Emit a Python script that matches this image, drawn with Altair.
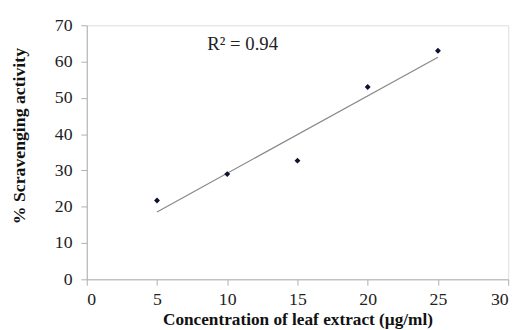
import altair as alt
import pandas as pd

conc = [5, 10, 15, 20, 25]
activity = [21.7, 29.0, 32.7, 53.0, 63.0]
r2_label = ["R² = 0.94"]

df = pd.DataFrame({"conc": conc, "activity": activity})
FONT = "Liberation Serif"

xs = alt.Scale(domain=[0, 30], nice=False)
ys = alt.Scale(domain=[0, 70], nice=False)

xax = alt.Axis(values=[0, 5, 10, 15, 20, 25, 30], grid=False, title="Concentration of leaf extract (µg/ml)",
               labelFont=FONT, labelFontSize=18, labelColor="#222", labelOverlap=False,
               titleFont=FONT, titleFontSize=17.5,
               titleFontWeight="bold", titleColor="#111", domainColor="#b0b0b0", tickColor="#b0b0b0",
               tickSize=6, labelPadding=6, titlePadding=2)
yax = alt.Axis(values=[0, 10, 20, 30, 40, 50, 60, 70], grid=False, title="% Scravenging activity",
               labelFont=FONT, labelFontSize=18, labelColor="#222", labelOverlap=False,
               titleFont=FONT, titleFontSize=18,
               titleFontWeight="bold", titleColor="#111", domainColor="#b0b0b0", tickColor="#b0b0b0",
               tickSize=6, labelPadding=9, titleX=-68, titleY=112, titleBaseline="middle")

base = alt.Chart(df)
pts = base.mark_point(shape="diamond", filled=True, size=36, color="#0d1230", opacity=1).encode(
    x=alt.X("conc:Q", scale=xs, axis=xax),
    y=alt.Y("activity:Q", scale=ys, axis=yax),
)
trend = base.transform_regression("conc", "activity", method="linear").mark_line(
    color="#888888", strokeWidth=1.2).encode(
    x=alt.X("conc:Q", scale=xs, axis=xax),
    y=alt.Y("activity:Q", scale=ys, axis=yax),
)
txt = alt.Chart(pd.DataFrame({"t": r2_label, "x": [11.1], "y": [64.7]})).mark_text(
    font=FONT, fontSize=19, color="#222").encode(
    x=alt.X("x:Q", scale=xs, axis=xax), y=alt.Y("y:Q", scale=ys, axis=yax), text="t:N")

chart = (trend + pts + txt).properties(
    width=428, height=258,
    autosize=alt.AutoSizeParams(type="none"),
    padding={"left": 80, "top": 15, "right": 11, "bottom": 55},
).configure_view(stroke=None).configure(background="white")

chart.save("out.html", embed_options={"renderer": "svg", "actions": False})
